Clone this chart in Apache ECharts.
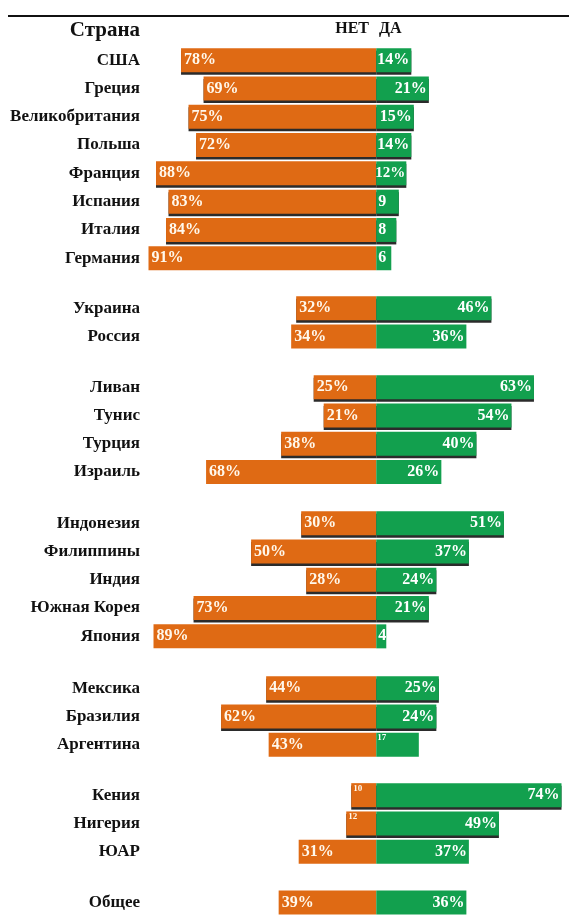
<!DOCTYPE html>
<html><head><meta charset="utf-8">
<script src="https://cdn.jsdelivr.net/npm/echarts@6/dist/echarts.min.js"></script>
<style>html,body{margin:0;padding:0;background:#fff}#c{width:569px;height:916px}</style>
</head><body><div id="c"></div>
<script>
const countries = ['США','Греция','Великобритания','Польша','Франция','Испания','Италия','Германия',
  'Украина','Россия',
  'Ливан','Тунис','Турция','Израиль',
  'Индонезия','Филиппины','Индия','Южная Корея','Япония',
  'Мексика','Бразилия','Аргентина',
  'Кения','Нигерия','ЮАР',
  'Общее'];
const noValues  = [78,69,75,72,88,83,84,91, 32,34, 25,21,38,68, 30,50,28,73,89, 44,62,43, 10,12,31, 39];
const yesValues = [14,21,15,14,12,9,8,6, 46,36, 63,54,40,26, 51,37,24,21,4, 25,24,17, 74,49,37, 36];
const groupSizes = [8,2,4,5,3,3,1];
const compactNo = ['Кения','Нигерия'];
const compactYes = ['Аргентина'];
const headerCountry = 'Страна', headerNo = 'НЕТ', headerYes = 'ДА';

const ORANGE = '#DF6A14', GREEN = '#12A04E';
const groupTops = [46, 294, 373, 509, 674, 781, 889];
const rowH = 28.3;
const FONT = '"Liberation Serif","Times New Roman",serif';

const grids = [], xAxes = [], yAxes = [], series = [];
let idx = 0;
groupSizes.forEach((n, g) => {
  const cats = countries.slice(idx, idx + n);
  const no = noValues.slice(idx, idx + n);
  const yes = yesValues.slice(idx, idx + n);
  idx += n;
  grids.push({left: 146, right: 0, top: groupTops[g], height: n * rowH});
  xAxes.push({gridIndex: g, type: 'value', min: -92, max: 77, show: false});
  yAxes.push({gridIndex: g, type: 'category', data: cats, inverse: true,
    axisLine: {show: false}, axisTick: {show: false}, splitLine: {show: false},
    axisLabel: {margin: 6, color: '#111', fontFamily: FONT, fontWeight: 'bold', fontSize: 17}});
  const shadowed = (i) => i < n - 1 ? {shadowColor: 'rgba(20,20,20,0.9)', shadowOffsetY: 2.5, shadowBlur: 0} : {};
  series.push({
    type: 'bar', xAxisIndex: g, yAxisIndex: g, barWidth: 24, barGap: '-100%',
    data: no.map((v, i) => {
      const compact = compactNo.includes(cats[i]);
      return {value: -v, itemStyle: Object.assign({color: ORANGE}, shadowed(i)),
        label: compact ? {position: 'insideTopLeft', fontSize: 9, offset: [-1, -2], formatter: String(v)} : {}};
    }),
    label: {show: true, position: 'insideLeft', distance: 3, color: '#FFF8EC', fontFamily: FONT,
      fontWeight: 'bold', fontSize: 16, formatter: p => Math.abs(p.value) + '%'}
  });
  series.push({
    type: 'bar', xAxisIndex: g, yAxisIndex: g, barWidth: 24, barGap: '-100%',
    data: yes.map((v, i) => {
      const compact = compactYes.includes(cats[i]);
      let label = {};
      if (compact) label = {position: 'insideTopLeft', fontSize: 9, offset: [-1, -2], formatter: String(v)};
      else if (v < 10) label = {position: 'insideLeft', formatter: String(v)};
      else if (v < 13) label = {distance: 1, fontSize: 15};
      return {value: v, itemStyle: Object.assign({color: GREEN}, shadowed(i)), label};
    }),
    label: {show: true, position: 'insideRight', distance: 2, color: '#fff', fontFamily: FONT,
      fontWeight: 'bold', fontSize: 16, formatter: p => p.value + '%'}
  });
});

const chart = echarts.init(document.getElementById('c'));
chart.setOption({
  animation: false,
  grid: grids, xAxis: xAxes, yAxis: yAxes, series,
  graphic: [
    {type: 'line', shape: {x1: 8, y1: 16, x2: 569, y2: 16}, style: {stroke: '#111', lineWidth: 2}},
    {type: 'text', x: 140, y: 31, style: {text: headerCountry, align: 'right', verticalAlign: 'middle',
      font: 'bold 21px ' + FONT, fill: '#111'}},
    {type: 'text', x: 369, y: 29, style: {text: headerNo, align: 'right', verticalAlign: 'middle',
      font: 'bold 16px ' + FONT, fill: '#111'}},
    {type: 'text', x: 379, y: 29, style: {text: headerYes, align: 'left', verticalAlign: 'middle',
      font: 'bold 16px ' + FONT, fill: '#111'}}
  ]
});
</script></body></html>
